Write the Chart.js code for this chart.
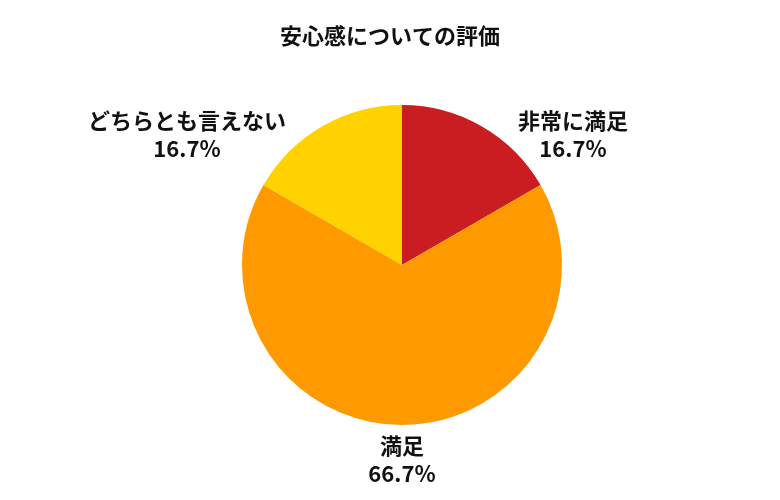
<!DOCTYPE html>
<html><head><meta charset="utf-8">
<script src="https://cdn.jsdelivr.net/npm/chart.js@4"></script>
<style>html,body{margin:0;padding:0;background:#fff}</style>
</head><body>
<div style="width:780px;height:500px"><canvas id="c"></canvas></div>
<script>
const titleText = '安心感についての評価';
const categories = ['非常に満足', '満足', 'どちらとも言えない'];
const values = [1, 4, 1];
const percentLabels = ['16.7%', '66.7%', '16.7%'];
const colors = ['#C91D22', '#FF9900', '#FFD200'];
const FONT = '"Noto Sans CJK JP", "Noto Sans", sans-serif';

const labelPlugin = {
  id: 'labels',
  afterDraw(chart) {
    const ctx = chart.ctx;
    ctx.save();
    ctx.fillStyle = '#111';
    ctx.font = 'bold 22px ' + FONT;
    ctx.textAlign = 'center';
    ctx.textBaseline = 'middle';
    ctx.fillText(titleText, 390, 36);
    const meta = chart.getDatasetMeta(0);
    meta.data.forEach((arc, i) => {
      const mid = (arc.startAngle + arc.endAngle) / 2;
      const sx = Math.cos(mid), sy = Math.sin(mid);
      ctx.font = 'bold 22px ' + FONT;
      const w = Math.max(ctx.measureText(categories[i]).width, ctx.measureText(percentLabels[i]).width);
      const edge = arc.x + sx * 232;
      let cx = arc.x;
      if (sx > 0.1) cx = edge + w / 2;
      else if (sx < -0.1) cx = edge - w / 2;
      const y = arc.y + sy * (sy > 0 ? 195 : 150);
      ctx.textAlign = 'center';
      ctx.fillText(categories[i], cx, y - 14);
      ctx.fillText(percentLabels[i], cx, y + 14);
    });
    ctx.restore();
  }
};

new Chart(document.getElementById('c'), {
  type: 'pie',
  data: { labels: categories, datasets: [{ data: values, backgroundColor: colors, borderWidth: 0 }] },
  options: {
    responsive: true, maintainAspectRatio: false, animation: false,
    layout: { padding: { top: 105, bottom: 75, left: 84, right: 60 } },
    plugins: { legend: { display: false }, tooltip: { enabled: false } }
  },
  plugins: [labelPlugin]
});
</script>
</body></html>
